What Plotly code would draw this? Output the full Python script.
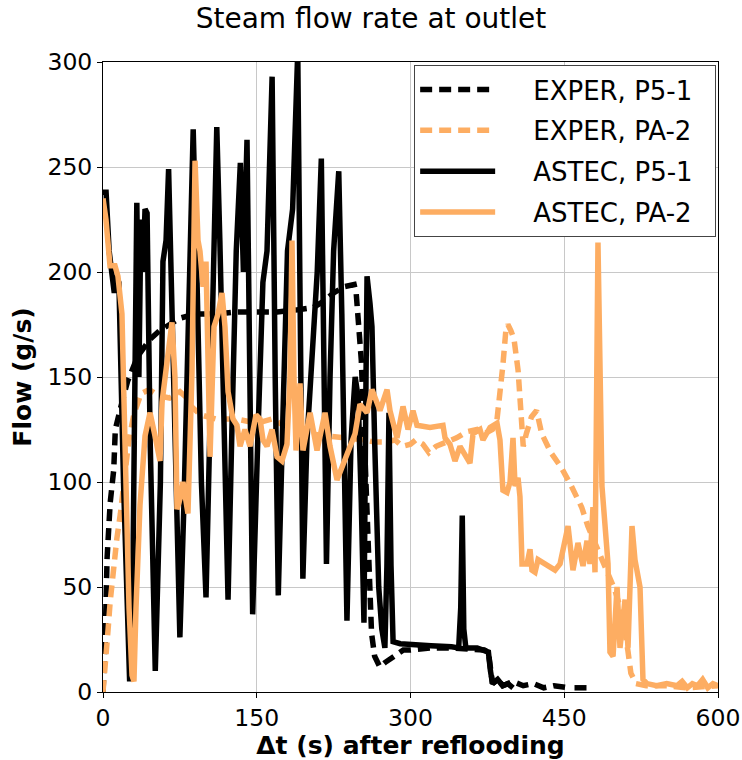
import plotly.graph_objects as go

# ---------------- data ----------------
exper_p51_t = [0, 1, 2, 4, 7, 10.5, 12, 17, 24, 34, 46, 55, 66, 75, 90, 110, 130, 150, 170, 190, 205, 215,
               225, 235, 245, 247, 250, 252, 255, 258, 260, 262, 265, 270, 275, 283, 293, 300, 320, 340, 360,
               372, 376, 378, 380, 385, 390, 400, 410, 420, 430, 440, 450, 455, None, 460, 472]
exper_p51_v = [0, 10, 23, 64, 90, 106, 125, 135, 148, 160, 168, 172, 175, 178, 180, 180, 181, 181, 181, 182, 183, 186,
               190, 193, 194, 190, 174, 158, 120, 80, 50, 28, 17, 12, 14, 17, 20, 20, 21, 21, 20.5,
               20, 19, 10, 4, 6, 3, 5, 3, 4, 2, 3, 2, 2, None, 2, 2]

exper_pa2_t = [0, 1, 3, 5, 7, 10, 13.5, 17, 20, 25, 30, 37, 45, 55, 65, 75, 82, 86, 95, 110, 130, 150, 165, 180,
               200, 220, 240, 255, 265, 275, 285, 292, 300, 305, 312, 318, 325, 335, 345, 355, 365, 372, 380,
               384, 387, 390, 393, 395, 398, 401, 405, 408, 409, 410, 413, 418, 423, 428, 437, 447, 457, 467,
               473, 479, 486, 492, 499, 506, 509, 512, 515, 520, 530, 550, 570, 600]
exper_pa2_v = [0, 5, 15, 30, 43, 58, 73, 85, 96, 119, 132, 142, 144, 141, 140, 143, 140, 136, 132, 130, 130, 128, 130, 126,
               123, 122, 121, 120, 119, 119, 120, 117, 118, 120, 118, 114, 117, 119, 121, 124, 125, 123, 125,
               128, 139, 155, 172, 175, 172, 168, 153, 135, 126, 117, 123, 131, 134, 123, 114, 107, 98, 88,
               79, 72, 64, 57, 49, 38, 30, 20, 9, 4, 3, 3, 2, 3]

astec_p51_t = [0, 3, 6, 9, 11, 13, 15.5, 20, 24, 26, 29, 31, 33, 35, 37, 39, 41, 43, 46, 51, 56, 58.5, 61.5, 64,
               67, 71, 75, 79, 83, 88, 92, 96, 100.5, 104, 107, 111, 114, 118, 122, 126, 130, 134, 137, 140.5,
               143, 146, 151, 156, 160, 165, 168, 171, 176, 180, 185, 190, 192, 195, 199, 205, 209, 213, 216,
               218, 221.5, 225, 230, 233, 238, 242, 246, 249, 252, 254.6, 256.6, 257.6, 260.5, 262.4, 265, 267,
               269, 272, 275, 277, 279, 281, 283, 290, 300, 320, 340, 347, 349, 350.5, 352, 354, 365, 370, 373,
               376, 378, 380, 385, 390, 395, 400]
astec_p51_v = [238, 238, 210, 200, 190, 198, 195, 100, 20, 5, 50, 180, 233, 150, 225, 200, 230, 228, 120, 10, 100, 205, 215, 249,
               180, 90, 26, 90, 180, 268, 190, 100, 45, 130, 200, 269, 215, 120, 44, 130, 210, 252, 200, 263,
               150, 37, 120, 195, 210, 293, 150, 46, 140, 210, 230, 305, 200, 54, 120, 175, 200, 254, 150,
               61, 150, 210, 248, 180, 34, 120, 150, 140, 90, 33, 150, 198, 185, 174, 120, 80,
               50, 30, 21, 60, 133, 60, 24, 23, 22.5, 22, 21.5, 21, 40, 84, 30, 21, 21, 20, 20,
               19, 10, 4, 6, 3, 4, 2]

astec_pa2_t = [0, 2.9, 6.8, 11.7, 14.6, 18.5, 20.5, 22.4, 25.4, 28.3, 30.2, 32.2, 36.1, 41, 45.9, 50.7, 55.6,
               57.6, 62.4, 67.3, 70.2, 72.2, 75.1, 78, 82.9, 86.8, 89.8, 92.7, 94.6, 97.6, 100.5, 102.4, 104.4,
               108.3, 112.2, 116.1, 119, 122, 126.8, 130.7, 133.7, 138.5, 143.4, 149.3, 153.2, 156.1, 160,
               164.9, 169.8, 174.6, 179.5, 182.4, 184.4, 186.3, 188.3, 192.2, 195.1, 202, 208.8, 216.6, 221.5,
               228.3, 233.2, 239, 245.9, 250.7, 257.6, 262.4, 270.2, 277.1, 280, 286.8, 292.7, 297.6, 302.4,
               306.3, 319, 331.7, 333.7, 338.5, 343.4, 348.3, 353.2, 358, 361, 367.8, 370.7, 377.6, 384.4,
               387.3, 390.2, 394.1, 397.1, 400, 402, 404.9, 406.8, 408.8, 413.7, 416.6, 418.5, 421.5, 424.4,
               433.2, 441, 445.9, 453.7, 458.5, 463.4, 468.3, 472.2, 475.1, 478, 480, 482.9, 486.8, 489.8,
               492.7, 494.6, 497.6, 501.5, 504.4, 509.3, 512.2, 516.1, 519, 523.9, 526.8, 530.7, 540, 550,
               560, 565, 570, 575, 580, 585, 590, 595, 600]
astec_pa2_v = [235, 225, 203, 203, 198, 180, 138, 97, 40, 8, 5, 40, 89, 122, 133, 122, 110,
               138, 158, 176, 150, 87, 92, 100, 85, 152, 253, 215, 210, 193, 205, 160, 112,
               174, 180, 190, 174, 143, 130, 127, 117, 125, 117, 132, 130, 120, 117,
               125, 112, 110, 118, 150, 215, 150, 115, 147, 115, 133, 115, 133, 117,
               101, 107, 115, 123, 137, 133, 144, 134, 144, 134, 121, 136, 125, 134,
               127, 126, 127, 121, 118, 110, 117, 113, 109, 123, 125, 120, 126, 128,
               120, 96, 95, 100, 121, 98, 102, 93, 61, 61, 68, 58, 57, 63,
               60, 58, 61, 79, 58, 71, 60, 72, 61, 88, 57, 214, 98, 82,
               61, 19, 17, 50, 21, 44, 21, 79, 63, 50, 6, 4, 3, 4,
               3, 5, 2, 4, 3, 6, 2, 4, 3]

x_ticks = [0, 150, 300, 450, 600]
y_ticks = [0, 50, 100, 150, 200, 250, 300]

BLACK = "#000000"
ORANGE = "#FDAD62"
FONT = "DejaVu Sans"
NB = "\u00a0"

series = [
    ("EXPER, P5-1", exper_p51_t, exper_p51_v, BLACK, "12px,7px"),
    ("EXPER, PA-2", exper_pa2_t, exper_pa2_v, ORANGE, "12px,7px"),
    ("ASTEC, P5-1", astec_p51_t, astec_p51_v, BLACK, "solid"),
    ("ASTEC, PA-2", astec_pa2_t, astec_pa2_v, ORANGE, "solid"),
]

fig = go.Figure()
for i, (name, t, v, col, dash) in enumerate(series):
    fig.add_trace(go.Scatter(
        x=t, y=v, mode="lines", name=NB * 4 + name + NB * 2,
        line=dict(color=col, width=5.5, dash=dash),
        legendgroup=f"g{i}", connectgaps=False,
    ))

fig.update_layout(
    width=742, height=760,
    margin=dict(l=103, r=24, t=62, b=68),
    paper_bgcolor="white", plot_bgcolor="white",
    font=dict(family=FONT, size=20, color="black"),
    title=dict(text="Steam flow rate at outlet", x=0.5, xref="container", xanchor="center",
               y=0.976, yref="container", yanchor="middle", font=dict(family=FONT, size=28, color="black")),
    showlegend=True,
    legend=dict(x=0.997, y=0.995, xanchor="right", yanchor="top",
                bgcolor="white", bordercolor="#444", borderwidth=1,
                font=dict(family=FONT, size=26, color="black"),
                tracegroupgap=4, itemwidth=75),
)
fig.update_xaxes(
    range=[0, 600], tickvals=x_ticks, ticktext=[str(v) for v in x_ticks],
    showgrid=True, gridcolor="#c8c8c8", gridwidth=1, automargin=False,
    showline=True, linecolor="black", linewidth=1, mirror=True,
    ticks="outside", ticklen=5, tickcolor="black", zeroline=False,
    tickfont=dict(family=FONT, size=23.5),
    title=dict(text="<b>Δt (s) after reflooding</b>", font=dict(family=FONT, size=25), standoff=4),
)
fig.update_yaxes(
    range=[0, 300], tickvals=y_ticks, ticktext=[str(v) for v in y_ticks],
    showgrid=True, gridcolor="#c8c8c8", gridwidth=1, automargin=False,
    showline=True, linecolor="black", linewidth=1, mirror=True,
    ticks="outside", ticklen=5, tickcolor="black", zeroline=False,
    tickfont=dict(family=FONT, size=23.5),
    title=dict(text="<b>Flow (g/s)</b>", font=dict(family=FONT, size=25), standoff=8),
)

fig.write_html("out.html")
